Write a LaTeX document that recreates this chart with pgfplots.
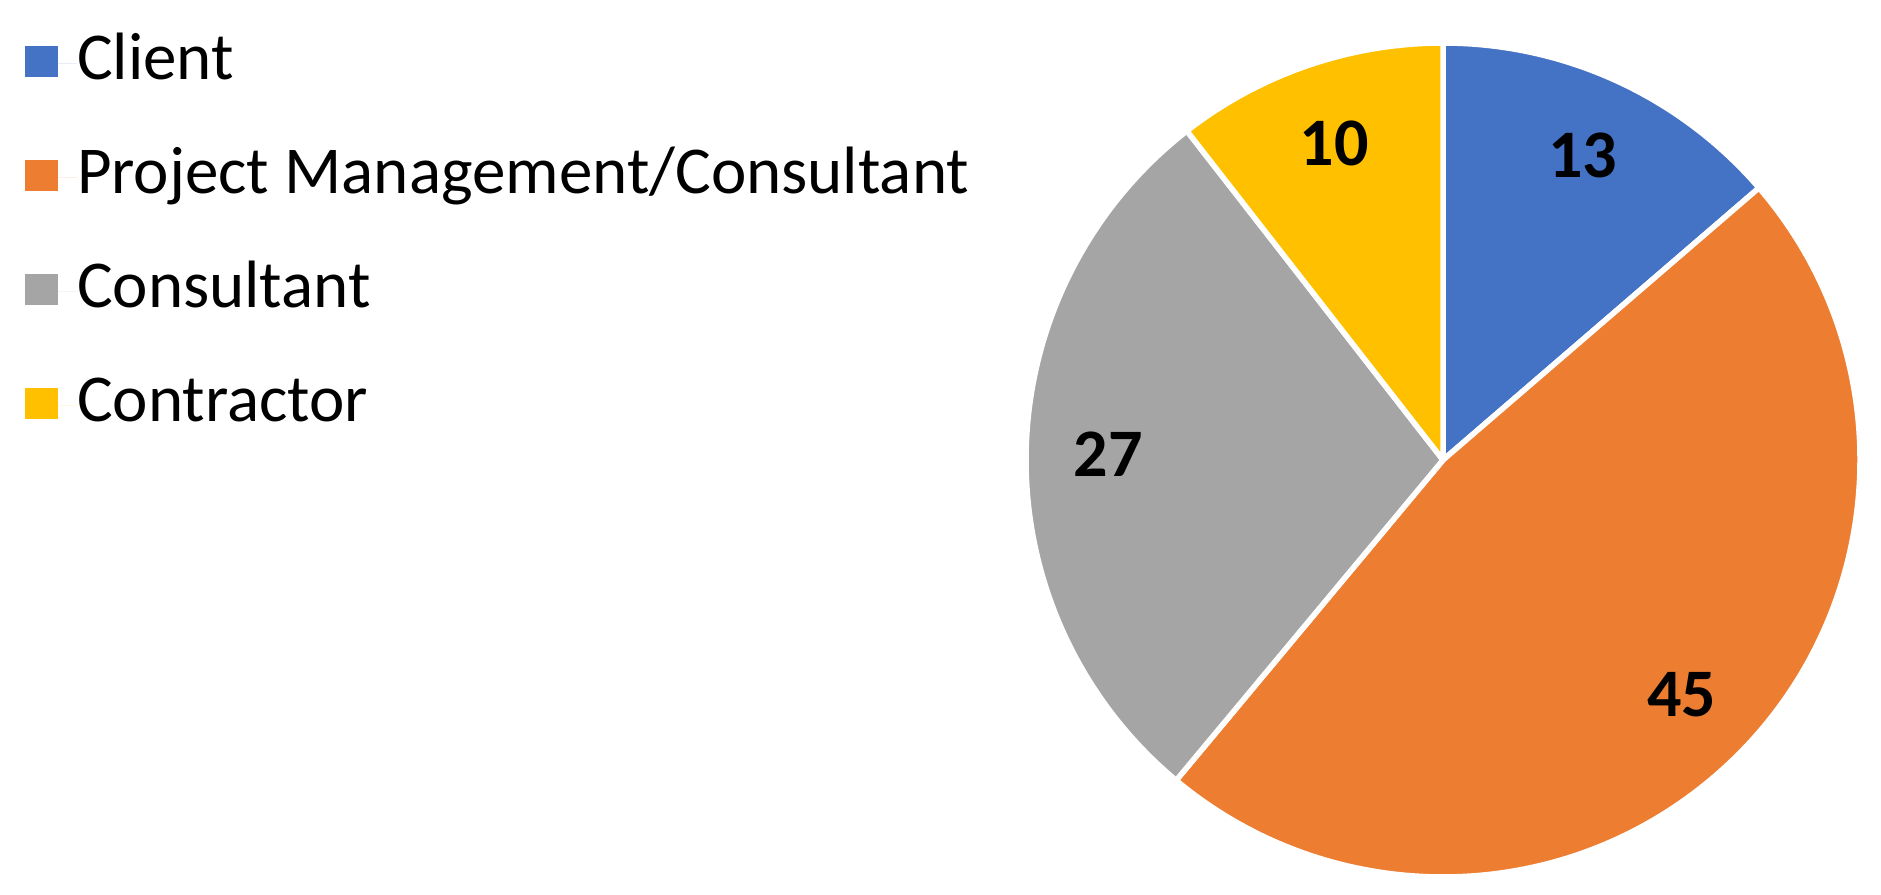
\documentclass[border=0pt]{standalone}
\usepackage{pgfplots}
\usepackage{pgfplotstable}
\pgfplotsset{compat=1.18}
\usepackage{fontspec}
\setmainfont{Carlito}
\definecolor{cblue}{HTML}{4472C4}
\definecolor{corange}{HTML}{ED7D31}
\definecolor{cgray}{HTML}{A5A5A5}
\definecolor{cyellow}{HTML}{FFC000}

\pgfplotstableread{
name value
Client 13
PM 45
Consultant 27
Contractor 10
}\piedata

\begin{document}
\begin{tikzpicture}
\pgfplotstablegetelem{0}{value}\of\piedata \let\vA\pgfplotsretval
\pgfplotstablegetelem{1}{value}\of\piedata \let\vB\pgfplotsretval
\pgfplotstablegetelem{2}{value}\of\piedata \let\vC\pgfplotsretval
\pgfplotstablegetelem{3}{value}\of\piedata \let\vD\pgfplotsretval
\pgfmathsetmacro\tot{\vA+\vB+\vC+\vD}
\pgfmathsetmacro\aA{90}
\pgfmathsetmacro\aB{\aA-360*\vA/\tot}
\pgfmathsetmacro\aC{\aB-360*\vB/\tot}
\pgfmathsetmacro\aD{\aC-360*\vC/\tot}
\pgfmathsetmacro\aE{\aD-360*\vD/\tot}
\pgfmathsetmacro\mA{(\aA+\aB)/2}
\pgfmathsetmacro\mB{(\aB+\aC)/2}
\pgfmathsetmacro\mC{(\aC+\aD)/2}
\pgfmathsetmacro\mD{(\aD+\aE)/2}
\def\R{208.5bp}
\def\Rl{167.5bp}
\begin{axis}[
  scale only axis, width=940.5bp, height=447.5bp,
  xmin=0, xmax=1881, ymin=0, ymax=895,
  hide axis, clip=false,
  legend style={at={(axis cs:25,859)}, anchor=north west, draw=none, fill=none,
    inner sep=0pt, outer sep=0pt, row sep=29bp,
    font=\fontsize{33.5bp}{40bp}\selectfont,
    nodes={inner sep=0pt, text height=22bp, text depth=6bp},
    /tikz/every even column/.append style={column sep=0bp}},
  legend cell align=left,
  legend image code/.code={\fill[#1] (0bp,-6.5bp) rectangle (16.5bp,9bp); \path (0bp,0bp) -- (26bp,0bp);},
]
\path (axis cs:0,0) rectangle (axis cs:1881,895);
\addlegendimage{fill=cblue, draw=none}
\addlegendentry{Client}
\addlegendimage{fill=corange, draw=none}
\addlegendentry{Project Management/Consultant}
\addlegendimage{fill=cgray, draw=none}
\addlegendentry{Consultant}
\addlegendimage{fill=cyellow, draw=none}
\addlegendentry{Contractor}

\fill[overlay, cblue, draw=white, line width=2.75bp, line join=round] (axis cs:1443,435) -- ++(\aA:\R) arc[start angle=\aA, end angle=\aB, radius=\R] -- cycle;
\fill[overlay, corange, draw=white, line width=2.75bp, line join=round] (axis cs:1443,435) -- ++(\aB:\R) arc[start angle=\aB, end angle=\aC, radius=\R] -- cycle;
\fill[overlay, cgray, draw=white, line width=2.75bp, line join=round] (axis cs:1443,435) -- ++(\aC:\R) arc[start angle=\aC, end angle=\aD, radius=\R] -- cycle;
\fill[overlay, cyellow, draw=white, line width=2.75bp, line join=round] (axis cs:1443,435) -- ++(\aD:\R) arc[start angle=\aD, end angle=\aE, radius=\R] -- cycle;

\path (axis cs:1443,435) ++(\mA:\Rl) node[font=\fontsize{34bp}{40bp}\selectfont\bfseries, inner sep=0pt] {\vA};
\path (axis cs:1443,435) ++(\mB:\Rl) node[font=\fontsize{34bp}{40bp}\selectfont\bfseries, inner sep=0pt] {\vB};
\path (axis cs:1443,435) ++(\mC:\Rl) node[font=\fontsize{34bp}{40bp}\selectfont\bfseries, inner sep=0pt] {\vC};
\path (axis cs:1443,435) ++(\mD:\Rl) node[font=\fontsize{34bp}{40bp}\selectfont\bfseries, inner sep=0pt] {\vD};
\end{axis}
\end{tikzpicture}
\end{document}
